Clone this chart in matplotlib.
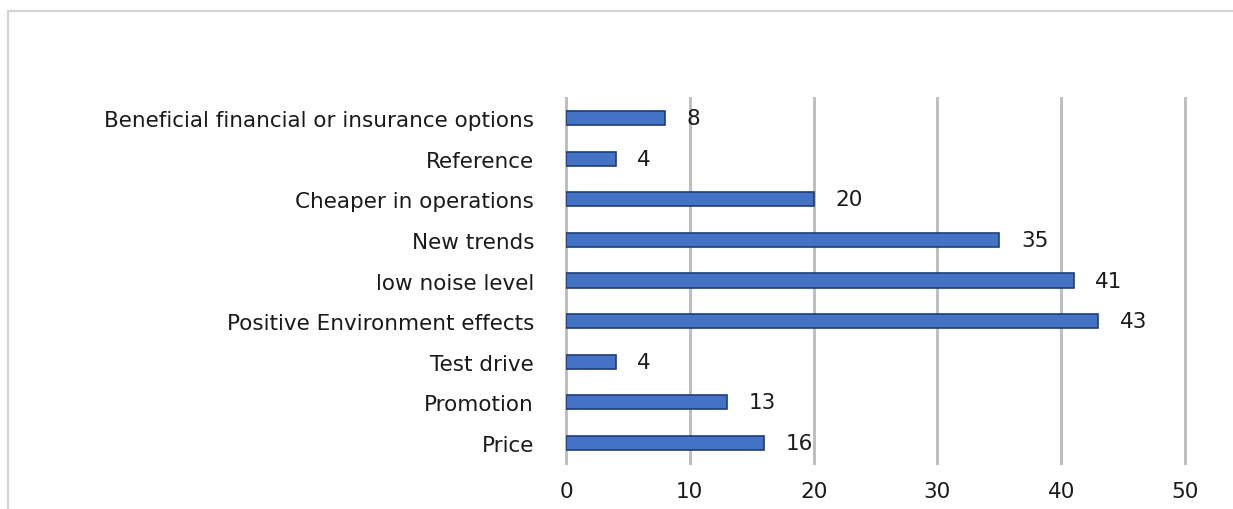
import matplotlib
matplotlib.use("Agg")
import matplotlib.pyplot as plt
from matplotlib.patches import Rectangle

categories = [
    "Price",
    "Promotion",
    "Test drive",
    "Positive Environment effects",
    "low noise level",
    "New trends",
    "Cheaper in operations",
    "Reference",
    "Beneficial financial or insurance options",
]
values = [16, 13, 4, 43, 41, 35, 20, 4, 8]
x_ticks = [0, 10, 20, 30, 40, 50]

plt.rcParams["font.family"] = ["DejaVu Sans"]

W, H = 1233, 510
fig = plt.figure(figsize=(W / 100, H / 100), dpi=100)

# chart area frame (extends past the right and bottom edges)
fig.patches.append(Rectangle((8 / W, -0.1), 1.2, 1 - 12 / H + 0.1,
                             transform=fig.transFigure, fill=False,
                             edgecolor="#D4D4D4", linewidth=1.6))

ax = fig.add_axes([566 / W, 46 / H, 619 / W, 365 / H])
ypos = range(len(categories))
ax.barh(ypos, values, height=0.35, color="#4472C4",
        edgecolor="#1F3D7A", linewidth=1.2, zorder=3)

for y, v in zip(ypos, values):
    ax.annotate(str(v), (v, y), xytext=(15.5, 0), textcoords="offset points",
                va="center", ha="left", fontsize=15.5, color="#1a1a1a")

ax.set_xlim(0, 50)
ax.set_ylim(-0.5, len(categories) - 0.5)
ax.set_xticks(x_ticks)
ax.set_yticks(list(ypos))
ax.set_yticklabels(categories, va="center_baseline")
ax.tick_params(axis="both", length=0, labelsize=15.5, colors="#1a1a1a")
ax.tick_params(axis="y", pad=23)
ax.tick_params(axis="x", pad=13)
ax.grid(axis="x", color="#BFBFBF", linewidth=2.2, zorder=0)
for line in ax.get_xgridlines():
    line.set_clip_on(False)
for s in ax.spines.values():
    s.set_visible(False)

fig.savefig("out.png", dpi=100)
